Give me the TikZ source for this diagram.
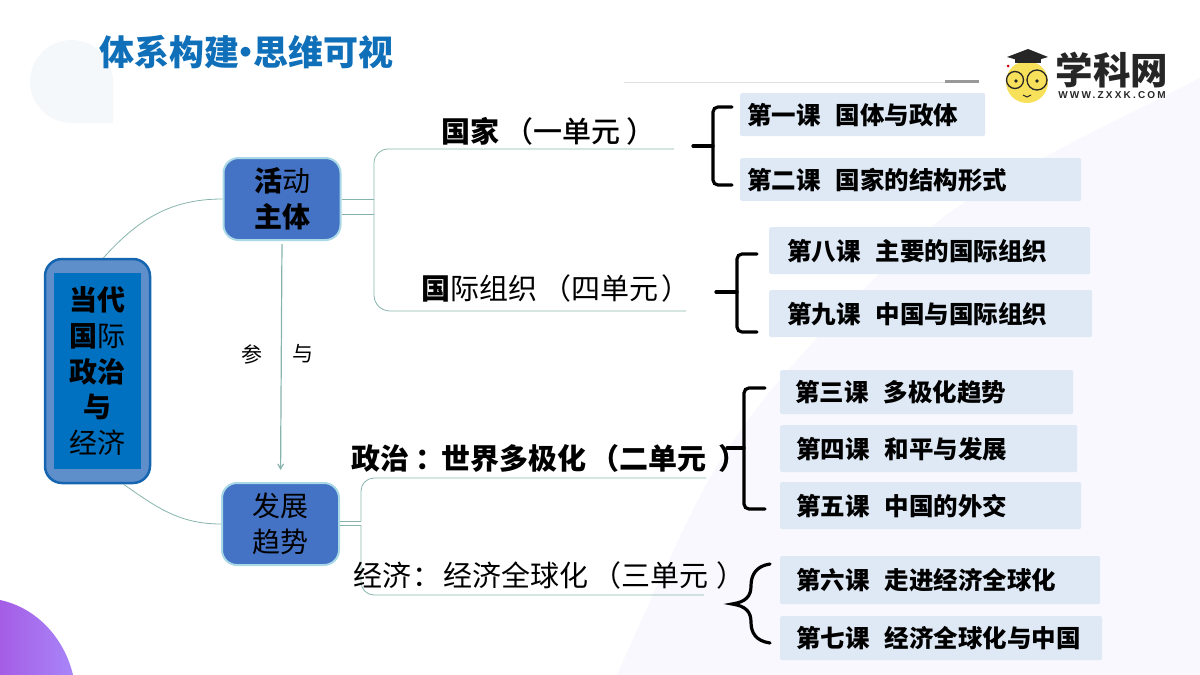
\documentclass[tikz,border=0pt]{standalone}
\usepackage{fontspec}
\setmainfont{Noto Sans CJK SC}
\newfontfamily\mediumfont{Noto Sans CJK SC Medium}
\newfontfamily\logofont[LetterSpace=22]{Liberation Sans}
\usetikzlibrary{arrows}

\definecolor{titleblue}{HTML}{0F6FB8}
\definecolor{mainrim}{HTML}{1565B0}
\definecolor{mainouter}{HTML}{5E8FCB}
\definecolor{maininner}{HTML}{0070C0}
\definecolor{subfill}{HTML}{4472C4}
\definecolor{subrim}{HTML}{A9D8E6}
\definecolor{branchline}{HTML}{86B4AC}
\definecolor{lessonfill}{HTML}{DEE9F5}
\definecolor{paleback}{HTML}{F8F8FE}
\definecolor{palecorner}{HTML}{F5F8FB}
\definecolor{purpleleft}{HTML}{A55DE5}
\definecolor{purpleright}{HTML}{A885F8}
\definecolor{logoyellow}{HTML}{F7E05A}

\tikzset{
    branch/.style={draw=branchline, line width=0.8pt},
    subbox/.style={draw=subrim, line width=2pt, fill=subfill, rounded corners=15pt,
        minimum width=117pt, minimum height=82pt, align=center, inner sep=0pt,
        font=\fontsize{28}{36}\selectfont},
    unittext/.style={inner sep=0pt, font=\fontsize{29}{34}\selectfont},
    lessonbox/.style={fill=lessonfill, anchor=north west, rounded corners=1.5pt, align=left,
        font=\fontsize{24.5}{30}\selectfont\bfseries, inner ysep=0pt},
    bracket/.style={draw=black, line width=3.2pt, line cap=round},
}

\begin{document}
\begin{tikzpicture}[x=1pt, y=-1pt]
    \useasboundingbox (0,0) rectangle (1200,675);

    % Background shapes
    \fill[paleback] plot[smooth] coordinates {(617,675) (707,483) (797,360) (953,210) (1190,83) (1200,78)}
        -- (1200,675) -- cycle;
    \fill[palecorner] (113,123) -- (71.5,123) .. controls (48.6,123) and (30,104.4) .. (30,81.5)
        .. controls (30,58.6) and (48.6,40) .. (71.5,40)
        .. controls (94.4,40) and (113,58.6) .. (113,81.5) -- cycle;
    \shade[left color=purpleleft, right color=purpleright]
        (0,600) .. controls (38,608) and (65,640) .. (73,675) -- (0,675) -- cycle;

    % Title
    \node[anchor=west, inner sep=0pt, text=titleblue, font=\fontsize{35}{40}\selectfont\bfseries]
        (title) at (99,52) {体系构建\hspace{-10.5pt}•\hspace{-10.5pt}思维可视};

    % Rule under title
    \draw[gray!25, line width=1pt] (624,82) -- (945,82);
    \draw[gray!80, line width=3pt] (945,81) -- (979,81);

    % Logo
    \fill[logoyellow] (1027,82) circle (21);
    \fill[black!85] (1028,49) -- (1048,57) -- (1028,63) -- (1007,57) -- cycle;
    \fill[black!85] (1015,58) -- (1041,58) -- (1041,63) -- (1015,63) -- cycle;
    \fill[red!80!black] (1008,66) circle (1.5);
    \draw[black!85, line width=1.3pt] (1015,80) circle (8.5);
    \draw[black!85, line width=1.3pt] (1037,80) circle (10);
    \fill[black!85] (1016,81) circle (1.8);
    \fill[black!85] (1037,81) circle (1.8);
    \draw[black!85, line width=1pt] (1023,95) -- (1027,97) -- (1031,95);
    \node[inner sep=0pt, text=black!85, font=\fontsize{37.5}{40}\selectfont\bfseries]
        (logoname) at (1112,70) {学科网};
    \node[inner sep=0pt, text=black!85, font=\fontsize{10}{11}\logofont\bfseries]
        (logourl) at (1112,95) {WWW.ZXXK.COM};

    % Main box
    \node[draw=mainrim, line width=2.5pt, fill=mainouter, rounded corners=17pt,
        minimum width=105pt, minimum height=224pt] (dangdai) at (97.5,371) {};
    \node[fill=maininner, minimum width=87pt, minimum height=196pt, inner sep=0pt, align=center,
        font=\fontsize{28}{35.6}\selectfont] (dangdaitext) at (97.5,371)
        {\textbf{当代}\\\textbf{国}际\\\textbf{政治}\\\textbf{与}\\经济};

    % Second level boxes
    \node[subbox] (huodong) at (282,199) {\textbf{活}动\\\textbf{主体}};
    \node[subbox] (fazhan) at (280.5,524) {发展\\趋势};

    % Named ends of the branches
    \coordinate (huodong fork) at (374,199);
    \coordinate (huodong low) at (374,214);
    \coordinate (guojia end) at (674,149);
    \coordinate (zuzhi end) at (686,311);
    \coordinate (fazhan fork) at (361,521);
    \coordinate (fazhan low) at (361,525);
    \coordinate (zhengzhi end) at (706,478);
    \coordinate (jingji end) at (704,595);

    % Branches from main box
    \draw[branch] ([xshift=6pt]dangdai.north) to[out=48, in=180] (huodong.west);
    \draw[branch] ([xshift=26pt]dangdai.south) to[out=-35, in=180] (fazhan.west);

    % Arrow between second level boxes
    \draw[branchline, line width=1.2pt, arrows={-angle 60}, shorten <=3pt, shorten >=12pt]
        (huodong.south) -- (fazhan.north);
    \node[inner sep=0pt, font=\fontsize{21}{24}\selectfont] (can) at (252,354) {参};
    \node[inner sep=0pt, font=\fontsize{21}{24}\selectfont] (yu) at (303,354) {与};

    % Top fork
    \draw[branch] (huodong.east) -- (huodong fork);
    \draw[branch] ([yshift=-15pt]huodong.east) -- (huodong low);
    \draw[branch, rounded corners=14pt] (huodong fork) -- (374,149) -- (guojia end);
    \draw[branch, rounded corners=16pt] (huodong fork) -- (374,311) -- (zuzhi end);

    % Bottom fork
    \draw[branch] ([yshift=3pt]fazhan.east) -- (fazhan fork);
    \draw[branch] ([yshift=-1pt]fazhan.east) -- (fazhan low);
    \draw[branch, rounded corners=13pt] (fazhan fork) -- (361,478) -- (zhengzhi end);
    \draw[branch, rounded corners=13pt] (fazhan low) -- (361,595) -- (jingji end);

    % Unit labels
    \node[unittext, anchor=west] (guojia) at (441,131)
        {\textbf{国家}\hspace{5pt}{\mediumfont （一单元\hspace{6pt}）}};
    \node[unittext, anchor=west] (zuzhi) at (421,288)
        {\textbf{国}际组织\hspace{5pt}（四单元\hspace{3pt}）};
    \node[unittext, anchor=west] (zhengzhi) at (351,458)
        {\textbf{政治}\hspace{6pt}\textbf{：}\hspace{-3pt}\textbf{世界多极化}\hspace{4pt}\textbf{（二单元}\hspace{12pt}\textbf{）}};
    \node[unittext, anchor=west] (jingji) at (353,575)
        {经济\hspace{1pt}：\hspace{2pt}经济全球化\hspace{4pt}（三单元\hspace{8pt}）};

    % Brackets, top
    \draw[bracket, rounded corners=5pt] (732,107) -- (713,107) -- (713,185) -- (732,185);
    \draw[bracket] (693,146) -- (713,146);
    \draw[bracket, rounded corners=5pt] (757,254) -- (737,254) -- (737,332) -- (757,332);
    \draw[bracket] (716,292) -- (737,292);

    % Brackets, bottom
    \draw[bracket, rounded corners=5pt] (765,388) -- (744,388) -- (744,509) -- (765,509);
    \draw[bracket] (727,448) -- (744,448);
    \draw[bracket] (770,564) .. controls (756,566) and (751,575) .. (751,586)
        .. controls (751,596) and (746,602) .. (732,604)
        .. controls (746,606) and (751,612) .. (751,622)
        .. controls (751,633) and (756,641) .. (770,643);

    % Lessons, top
    \node[lessonbox, minimum width=245pt, minimum height=43pt, text width=231pt, inner xsep=7pt]
        (keA) at (740,93) {第一课\hspace{15pt}国体与政体};
    \node[lessonbox, minimum width=341pt, minimum height=43pt, text width=327pt, inner xsep=7pt]
        (keB) at (740,158) {第二课\hspace{15pt}国家的结构形式};
    \node[lessonbox, minimum width=321pt, minimum height=47pt, text width=285pt, inner xsep=18pt]
        (keH) at (769,227) {第八课\hspace{15pt}主要的国际组织};
    \node[lessonbox, minimum width=323pt, minimum height=47pt, text width=287pt, inner xsep=18pt]
        (keI) at (769,290) {第九课\hspace{15pt}中国与国际组织};

    % Lessons, bottom
    \node[lessonbox, minimum width=293pt, minimum height=44pt, text width=263pt, inner xsep=15pt]
        (keC) at (780,370) {第三课\hspace{15pt}多极化趋势};
    \node[lessonbox, minimum width=297pt, minimum height=47pt, text width=265pt, inner xsep=16pt]
        (keD) at (780,425) {第四课\hspace{15pt}和平与发展};
    \node[lessonbox, minimum width=301pt, minimum height=47pt, text width=269pt, inner xsep=16pt]
        (keE) at (780,482) {第五课\hspace{15pt}中国的外交};
    \node[lessonbox, minimum width=320pt, minimum height=48pt, text width=288pt, inner xsep=16pt]
        (keF) at (780,556) {第六课\hspace{15pt}走进经济全球化};
    \node[lessonbox, minimum width=322pt, minimum height=44pt, text width=290pt, inner xsep=16pt]
        (keG) at (780,616) {第七课\hspace{15pt}经济全球化与中国};
\end{tikzpicture}
\end{document}
